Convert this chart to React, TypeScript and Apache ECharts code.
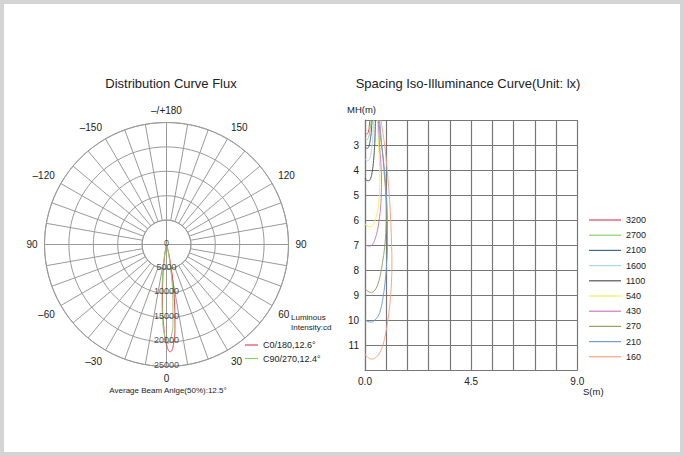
import React, { useEffect, useRef } from "react";
import * as echarts from "echarts";

// ---------- Polar (luminous intensity, cd) ----------
const radiusTicks = [0, 5000, 10000, 15000, 20000, 25000];

const c0Angles = [-20, -16, -14, -12, -10, -8, -6, -4, -2, 0, 2, 4, 6, 8, 10, 12, 14, 16, 18, 20, 24];
const c0Values = [0, 50, 250, 700, 1800, 3800, 7200, 11700, 16600, 20500, 22000, 20500, 16600, 11700, 7200, 3800, 1800, 700, 250, 50, 0];

const c90Angles = [-21, -17, -15, -13, -11, -9, -7, -5, -3, -1, 1, 3, 5, 7, 9, 11, 13, 15, 17, 19, 23];
const c90Values = [0, 40, 200, 600, 1500, 3350, 6400, 10600, 15200, 18900, 20300, 18900, 15200, 10600, 6400, 3350, 1500, 600, 200, 40, 0];

const polarNames = ["C0/180,12.6°", "C90/270,12.4°"];
const polarColors = ["#e2455e", "#8fd064"];

// ---------- Iso-illuminance curves [S(m), MH(m)] ----------
const isoLevels = ["3200", "2700", "2100", "1600", "1100", "540", "430", "270", "210", "160"];
const isoColors = ["#e2455e", "#8fd064", "#3f6994", "#a9d9e9", "#555555", "#f2f04e", "#c97ac0", "#9c9c6c", "#6f9fcf", "#f2a484"];

const iso3200 = [[0, 2.52], [0.05, 2.56], [0.1, 2.55], [0.15, 2.44], [0.18, 2.25], [0.2, 2.0]];
const iso2700 = [[0, 2.74], [0.05, 2.78], [0.1, 2.77], [0.16, 2.66], [0.21, 2.45], [0.24, 2.2], [0.26, 2.0]];
const iso2100 = [[0, 3.08], [0.06, 3.13], [0.12, 3.12], [0.18, 3.0], [0.23, 2.75], [0.27, 2.45], [0.3, 2.0]];
const iso1600 = [[0, 3.57], [0.06, 3.62], [0.12, 3.63], [0.19, 3.55], [0.25, 3.35], [0.3, 3.05], [0.33, 2.7], [0.36, 2.0]];
const iso1100 = [[0, 4.33], [0.08, 4.42], [0.16, 4.43], [0.24, 4.33], [0.3, 4.1], [0.35, 3.75], [0.39, 3.3], [0.42, 2.8], [0.44, 2.0]];
const iso540 = [[0, 6.15], [0.1, 6.24], [0.22, 6.27], [0.33, 6.2], [0.43, 6.0], [0.52, 5.7], [0.58, 5.3], [0.62, 4.8], [0.63, 4.2], [0.6, 3.5], [0.56, 2.8], [0.52, 2.0]];
const iso430 = [[0, 6.97], [0.1, 7.03], [0.2, 7.04], [0.32, 6.97], [0.43, 6.75], [0.53, 6.4], [0.6, 6.0], [0.66, 5.5], [0.69, 5.0], [0.7, 4.4], [0.67, 3.7], [0.62, 3.0], [0.56, 2.0]];
const iso270 = [[0, 8.72], [0.12, 8.85], [0.28, 8.89], [0.42, 8.8], [0.55, 8.55], [0.66, 8.15], [0.75, 7.65], [0.83, 7.1], [0.88, 6.5], [0.9, 5.8], [0.88, 5.0], [0.82, 4.2], [0.75, 3.4], [0.66, 2.7], [0.58, 2.0]];
const iso210 = [[0, 9.97], [0.12, 10.06], [0.28, 10.08], [0.42, 10.0], [0.55, 9.85], [0.67, 9.55], [0.78, 9.0], [0.86, 8.4], [0.92, 7.7], [0.95, 7.0], [0.95, 6.2], [0.92, 5.3], [0.86, 4.4], [0.78, 3.6], [0.7, 2.9], [0.62, 2.0]];
const iso160 = [[0, 11.35], [0.12, 11.5], [0.28, 11.56], [0.45, 11.5], [0.6, 11.35], [0.74, 11.05], [0.86, 10.6], [0.97, 10.0], [1.06, 9.3], [1.12, 8.5], [1.14, 7.7], [1.12, 6.8], [1.08, 5.8], [1.02, 4.9], [0.93, 3.9], [0.83, 3.0], [0.74, 2.4], [0.68, 2.0]];
const isoCurves = [iso3200, iso2700, iso2100, iso1600, iso1100, iso540, iso430, iso270, iso210, iso160];

const xTickLabels = ["0.0", "4.5", "9.0"];
const yTickLabels = ["3", "4", "5", "6", "7", "8", "9", "10", "11"];

const FONT = "'Liberation Sans', Arial, Helvetica, sans-serif";
const TXT = "#222";
const POLAR_GRID = "#9a9a9a";
const RECT_GRID = "#777777";
const CENTER = [166.5, 244.5];
const R = 122;

function angleLabel(v: number): string {
  const a = Math.round(v);
  if (a % 30 !== 0) return "";
  if (a === -180) return "–/+180";
  if (a === 180) return "";
  if (a === -90) return "90";
  if (a < 0) return "–" + Math.abs(a);
  return String(a);
}

export default function App() {
  const ref = useRef<HTMLDivElement>(null);

  useEffect(() => {
    if (!ref.current) return;
    const chart = echarts.init(ref.current, undefined, { renderer: "svg" });

    const polarSeries = [
      { name: polarNames[0], angles: c0Angles, values: c0Values, color: polarColors[0] },
      { name: polarNames[1], angles: c90Angles, values: c90Values, color: polarColors[1] },
    ].map((s) => ({
      type: "line",
      name: s.name,
      coordinateSystem: "polar",
      polarIndex: 1,
      data: s.angles.map((a, i) => [s.values[i], a]),
      smooth: true,
      showSymbol: false,
      symbol: "none",
      lineStyle: { color: s.color, width: 1 },
      itemStyle: { color: s.color },
      z: 3,
    }));

    const isoSeries = isoLevels.map((lv, i) => ({
      type: "line",
      name: lv,
      xAxisIndex: 0,
      yAxisIndex: 0,
      data: isoCurves[i],
      smooth: 0.5,
      showSymbol: false,
      symbol: "none",
      clip: true,
      lineStyle: { color: isoColors[i], width: 1 },
      itemStyle: { color: isoColors[i] },
      z: 3,
    }));

    const option: any = {
      animation: false,
      backgroundColor: "#ffffff",
      textStyle: { fontFamily: FONT },
      title: [
        {
          text: "Distribution Curve Flux",
          left: 171,
          top: 77,
          padding: 0,
          textAlign: "center",
          textStyle: { fontSize: 13, fontWeight: "normal", color: TXT, fontFamily: FONT },
        },
        {
          text: "Spacing Iso-Illuminance Curve(Unit: lx)",
          left: 468,
          top: 77,
          padding: 0,
          textAlign: "center",
          textStyle: { fontSize: 13, fontWeight: "normal", color: TXT, fontFamily: FONT },
        },
      ],
      legend: [
        {
          data: polarNames,
          orient: "vertical",
          left: 245,
          top: 339,
          padding: 0,
          icon: "rect",
          itemWidth: 13,
          itemHeight: 1.2,
          itemGap: 1.5,
          selectedMode: false,
          textStyle: { fontSize: 9, color: TXT, lineHeight: 12, fontFamily: FONT },
        },
        {
          data: isoLevels,
          orient: "vertical",
          left: 589,
          top: 214,
          padding: 0,
          icon: "rect",
          itemWidth: 32,
          itemHeight: 1.2,
          itemGap: 3.2,
          selectedMode: false,
          textStyle: { fontSize: 9, color: TXT, lineHeight: 12, fontFamily: FONT },
        },
      ],
      polar: [
        { center: CENTER, radius: [R / 5, R] },
        { center: CENTER, radius: [0, R] },
      ],
      angleAxis: [
        {
          polarIndex: 0,
          type: "value",
          min: -180,
          max: 180,
          interval: 10,
          startAngle: 90,
          clockwise: false,
          axisLine: { show: true, lineStyle: { color: POLAR_GRID, width: 1 } },
          axisTick: { show: false },
          axisLabel: { show: true, formatter: angleLabel, margin: 7, color: TXT, fontSize: 10, fontFamily: FONT },
          splitLine: { show: true, lineStyle: { color: POLAR_GRID, width: 1 } },
        },
        {
          polarIndex: 1,
          type: "value",
          min: -180,
          max: 180,
          interval: 90,
          startAngle: 90,
          clockwise: false,
          axisLine: { show: false },
          axisTick: { show: false },
          axisLabel: { show: false },
          splitLine: { show: true, lineStyle: { color: POLAR_GRID, width: 1 } },
        },
      ],
      radiusAxis: [
        {
          polarIndex: 0,
          type: "value",
          min: 5000,
          max: 25000,
          interval: 5000,
          axisLine: { show: false },
          axisTick: { show: false },
          axisLabel: { show: false },
          splitLine: { show: true, lineStyle: { color: POLAR_GRID, width: 1 } },
        },
        {
          polarIndex: 1,
          type: "value",
          min: 0,
          max: 25000,
          axisLine: { show: false },
          axisTick: { show: false },
          axisLabel: { show: false },
          splitLine: { show: false },
        },
      ],
      grid: { left: 365, top: 120, width: 212.3, height: 250, containLabel: false },
      xAxis: {
        type: "value",
        min: 0,
        max: 9,
        interval: 0.9,
        axisLine: { show: true, lineStyle: { color: RECT_GRID, width: 1.2 } },
        axisTick: { show: false },
        splitLine: { show: true, lineStyle: { color: RECT_GRID, width: 1.2 } },
        axisLabel: {
          color: TXT,
          fontSize: 10,
          margin: 6,
          fontFamily: FONT,
          formatter: (v: number) => {
            const s = (Math.round(v * 10) / 10).toFixed(1);
            return xTickLabels.indexOf(s) >= 0 ? s : "";
          },
        },
      },
      yAxis: {
        type: "value",
        min: 2,
        max: 12,
        interval: 1,
        inverse: true,
        axisLine: { show: true, lineStyle: { color: RECT_GRID, width: 1.2 } },
        axisTick: { show: false },
        splitLine: { show: true, lineStyle: { color: RECT_GRID, width: 1.2 } },
        axisLabel: {
          color: TXT,
          fontSize: 10,
          margin: 6,
          fontFamily: FONT,
          formatter: (v: number) => {
            const s = String(Math.round(v));
            return yTickLabels.indexOf(s) >= 0 ? s : "";
          },
        },
      },
      graphic: [
        {
          type: "rect",
          shape: { x: 0, y: 0, width: 684, height: 456 },
          style: { fill: "none", stroke: "#d4d4d4", lineWidth: 8 },
          silent: true,
        },
        {
          type: "text",
          x: 291,
          y: 313,
          style: { text: "Luminous\nIntensity:cd", lineHeight: 9.6, fill: TXT, font: `8px ${FONT}` },
        },
        {
          type: "text",
          x: 168,
          y: 390,
          style: {
            text: "Average Beam Anlge(50%):12.5°",
            fill: TXT,
            align: "center",
            verticalAlign: "middle",
            font: `8px ${FONT}`,
          },
        },
        {
          type: "text",
          x: 347,
          y: 109,
          style: { text: "MH(m)", fill: TXT, verticalAlign: "middle", font: `9.5px ${FONT}` },
        },
        {
          type: "text",
          x: 583,
          y: 391,
          style: { text: "S(m)", fill: TXT, verticalAlign: "middle", font: `9.5px ${FONT}` },
        },
      ],
      series: [
        ...polarSeries,
        {
          type: "scatter",
          coordinateSystem: "polar",
          polarIndex: 1,
          data: radiusTicks.map((v) => [v, 0]),
          symbolSize: 0,
          silent: true,
          z: 4,
          label: {
            show: true,
            position: "inside",
            offset: [0, -2],
            color: TXT,
            fontSize: 9,
            fontFamily: FONT,
            formatter: (p: any) => String(p.value[0]),
          },
        },
        ...isoSeries,
      ],
    };

    chart.setOption(option);
    return () => chart.dispose();
  }, []);

  return (
    <div
      ref={ref}
      style={{ position: "fixed", left: 0, top: 0, width: 684, height: 456, background: "#fff" }}
    />
  );
}
